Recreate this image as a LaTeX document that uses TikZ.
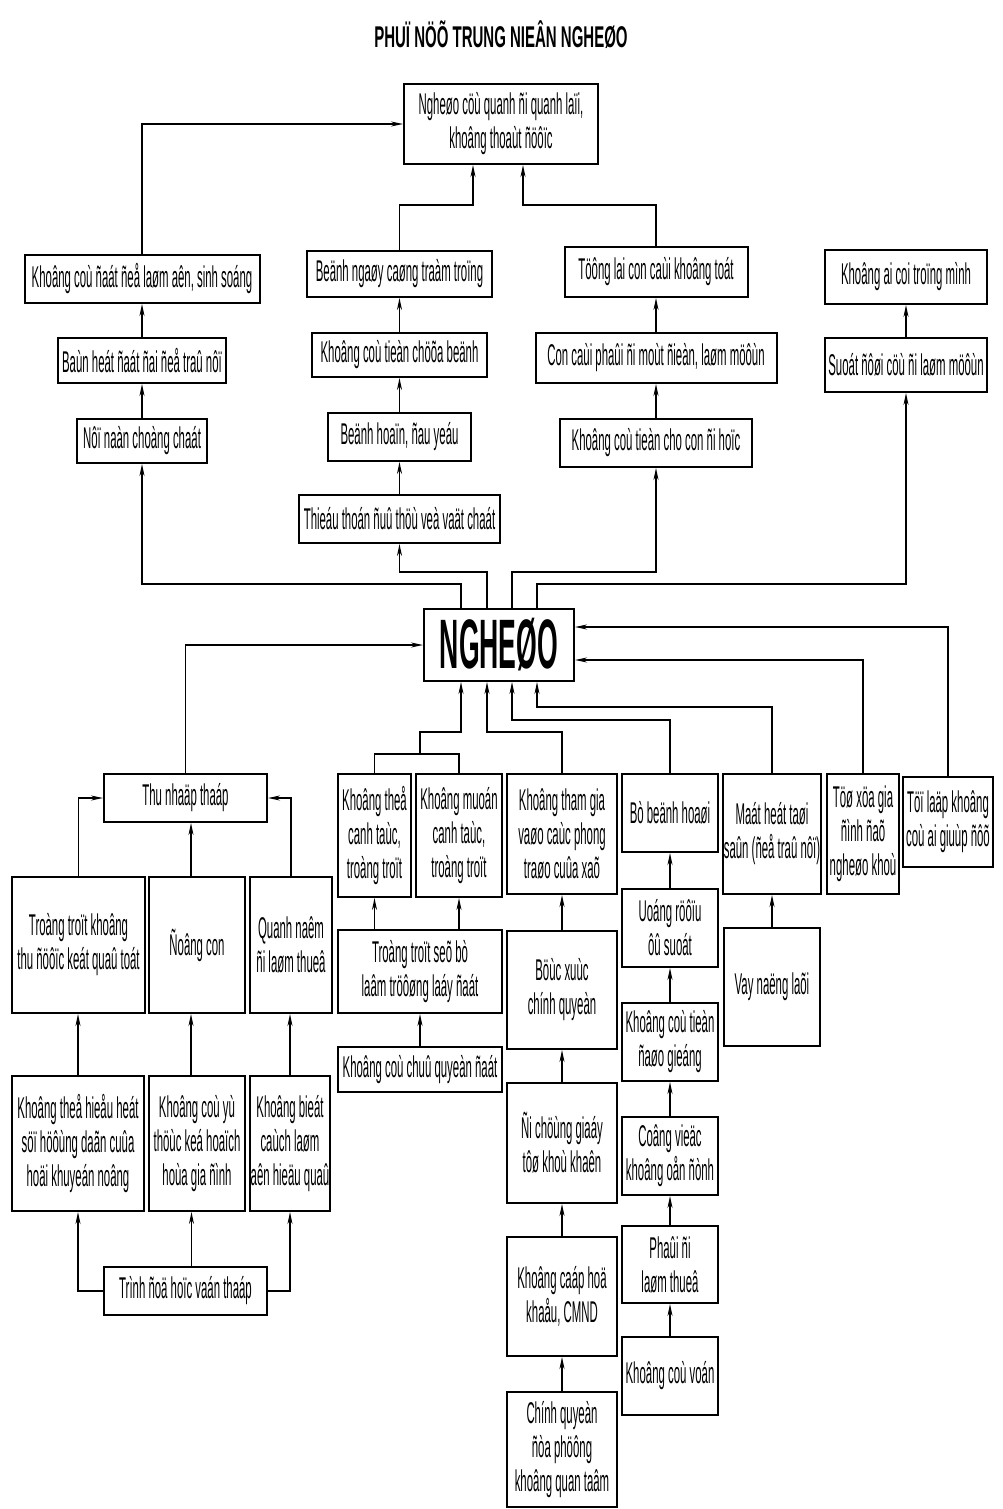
\documentclass[tikz,border=0pt]{standalone}
\usepackage{fontspec}
\setmainfont{Liberation Sans}[FakeStretch=0.38]
\newfontfamily\titlefont{Liberation Sans}[FakeStretch=0.5]
\usetikzlibrary{arrows.meta}
\tikzset{
  bx/.style={draw, line width=2pt, align=center, inner sep=1pt, font=\fontsize{30}{34}\selectfont},
  sz/.style 2 args={minimum width=#1pt, minimum height=#2pt},
  con/.style={line width=1.6pt},
  arr/.style={line width=1.6pt, -{Stealth[length=12pt,width=5pt]}},
}
\begin{document}
\begin{tikzpicture}[x=1pt,y=-1pt]
\useasboundingbox (0,0) rectangle (1003,1509);
% title
\node[font=\titlefont\bfseries\fontsize{30}{34}\selectfont] (title) at (501,35) {PHUÏ NÖÕ TRUNG NIEÂN NGHEØO};
% top
\node[bx, sz={194}{80}] (T) at (501,124) {Ngheøo cöù quanh ñi quanh laïi,\\khoâng thoaùt ñöôïc};
\node[bx, sz={235}{48}] (L1) at (142,279) {Khoâng coù ñaát ñeå laøm aên, sinh soáng};
\node[bx, sz={168}{45}] (L2) at (142,360.5) {Baùn heát ñaát ñai ñeå traû nôï};
\node[bx, sz={130}{44}] (L3) at (142,441) {Nôï naàn choàng chaát};
\node[bx, sz={185}{46}] (C1) at (399.5,274) {Beänh ngaøy caøng traàm troïng};
\node[bx, sz={175}{44}] (C2) at (399.5,355) {Khoâng coù tieàn chöõa beänh};
\node[bx, sz={143}{48}] (C3) at (399.5,437) {Beänh hoaïn, ñau yeáu};
\node[bx, sz={201}{48}] (C4) at (399.5,519) {Thieáu thoán ñuû thöù veà vaät chaát};
\node[bx, sz={183}{50}] (R1) at (656,272) {Töông lai con caùi khoâng toát};
\node[bx, sz={241}{50}] (R2) at (656,358) {Con caùi phaûi ñi moùt ñieàn, laøm möôùn};
\node[bx, sz={192}{48}] (R3) at (656,443) {Khoâng coù tieàn cho con ñi hoïc};
\node[bx, sz={162}{54}] (F1) at (906,277) {Khoâng ai coi troïng mình};
\node[bx, sz={162}{54}] (F2) at (906,365) {Suoát ñôøi cöù ñi laøm möôùn};
% center
\node[draw, line width=2pt, minimum width=150pt, minimum height=72pt, inner sep=0pt, font=\bfseries\fontsize{70}{74}\selectfont] (N) at (499,645) {NGHEØO};
% bottom left
\node[bx, sz={163}{48}] (TN) at (185.5,798) {Thu nhaäp thaáp};
\node[bx, sz={133}{136}] (B1) at (78.5,945) {Troàng troït khoâng\\thu ñöôïc keát quaû toát};
\node[bx, sz={96}{136}] (B2) at (197,945) {Ñoâng con};
\node[bx, sz={82}{136}] (B3) at (291,945) {Quanh naêm\\ñi laøm thueâ};
\node[bx, sz={132}{135}] (D1) at (78,1143.5) {Khoâng theå hieåu heát\\söï höôùng daãn cuûa\\hoäi khuyeán noâng};
\node[bx, sz={96}{135}] (D2) at (197,1143.5) {Khoâng coù yù\\thöùc keá hoaïch\\hoùa gia ñình};
\node[bx, sz={80}{135}] (D3) at (290,1143.5) {Khoâng bieát\\caùch laøm\\aên hieäu quaû};
\node[bx, sz={163}{48}] (E) at (185.5,1291) {Trình ñoä hoïc vaán thaáp};
% G column
\node[bx, sz={73}{123}] (G1) at (374.5,835.5) {Khoâng theå\\canh taùc,\\troàng troït};
\node[bx, sz={86}{123}] (G2) at (459,835.5) {Khoâng muoán\\canh taùc,\\troàng troït};
\node[bx, sz={164}{83}] (G3) at (420,971.5) {Troàng troït seõ bò\\laâm tröôøng laáy ñaát};
\node[bx, sz={164}{45}] (G4) at (420,1069.5) {Khoâng coù chuû quyeàn ñaát};
% H column
\node[bx, sz={110}{120}] (H1) at (562,834) {Khoâng tham gia\\vaøo caùc phong\\traøo cuûa xaõ};
\node[bx, sz={110}{118}] (H2) at (562,990) {Böùc xuùc\\chính quyeàn};
\node[bx, sz={110}{120}] (H3) at (562,1143) {Ñi chöùng giaáy\\tôø khoù khaên};
\node[bx, sz={110}{119}] (H4) at (562,1296.5) {Khoâng caáp hoä\\khaåu, CMND};
\node[bx, sz={110}{115}] (H5) at (562,1449.5) {Chính quyeàn\\ñòa phöông\\khoâng quan taâm};
% I column
\node[bx, sz={96}{78}] (I1) at (670,813) {Bò beänh hoaøi};
\node[bx, sz={96}{78}] (I2) at (670,928) {Uoáng röôïu\\ôû suoát};
\node[bx, sz={96}{78}] (I3) at (670,1042) {Khoâng coù tieàn\\ñaøo gieáng};
\node[bx, sz={96}{78}] (I4) at (670,1156) {Coâng vieäc\\khoâng oån ñònh};
\node[bx, sz={96}{77}] (I5) at (670,1264.5) {Phaûi ñi\\laøm thueâ};
\node[bx, sz={96}{78}] (I6) at (670,1376) {Khoâng coù voán};
% J, K, L
\node[bx, sz={96}{120}] (J1) at (772,834) {Maát heát taøi\\saûn (ñeå traû nôï)};
\node[bx, sz={96}{118}] (J2) at (772,987) {Vay naëng laõi};
\node[bx, sz={72}{120}] (K) at (863,834) {Töø xöa gia\\ñình ñaõ\\ngheøo khoù};
\node[bx, sz={90}{90}] (L) at (948,822) {Töï laäp khoâng\\coù ai giuùp ñôõ};

% ---------- upper connectors
\draw[arr] ([xshift=-38pt]N.north) |- (142,584) -- (L3.south);
\draw[arr] ([xshift=-12pt]N.north) |- (399.5,572) -- (C4.south);
\draw[arr] ([xshift=13pt]N.north) |- (656,572) -- (R3.south);
\draw[arr] ([xshift=38pt]N.north) |- (906,584) -- (F2.south);
\draw[arr] (L3.north) -- (L2.south);
\draw[arr] (L2.north) -- (L1.south);
\draw[arr] (L1.north) |- (T.west);
\draw[arr] (C4.north) -- (C3.south);
\draw[arr] (C3.north) -- (C2.south);
\draw[arr] (C2.north) -- (C1.south);
\draw[arr] (C1.north) -- (399.5,205) -| ([xshift=-28pt]T.south);
\draw[arr] (R3.north) -- (R2.south);
\draw[arr] (R2.north) -- (R1.south);
\draw[arr] (R1.north) -- (656,205) -| ([xshift=22pt]T.south);
\draw[arr] (F2.north) -- (F1.south);

% ---------- lower connectors
\draw[arr] (TN.north) |- (N.west);
\draw[arr] (B1.north) |- (TN.west);
\draw[arr] (B3.north) |- (TN.east);
\draw[arr] ([xshift=-6pt]B2.north) -- ([xshift=-6pt]B2.north |- TN.south);
\draw[arr] (D1.north) -- (D1.north |- B1.south);
\draw[arr] ([xshift=-6pt]D2.north) -- ([xshift=-6pt]D2.north |- B2.south);
\draw[arr] (D3.north) -- (D3.north |- B3.south);
\draw[arr] (E.west) -| (D1.south);
\draw[arr] ([xshift=6pt]E.north) -- ([xshift=6pt]E.north |- D2.south);
\draw[arr] (E.east) -| (D3.south);

\coordinate (gj) at (420,754);
\draw[con] (G1.north) |- (gj) -| (G2.north);
\draw[arr] (gj) -- (420,732) -| ([xshift=-38pt]N.south);
\draw[arr] (H1.north) |- (562,732) -| ([xshift=-12pt]N.south);
\draw[arr] (I1.north) |- (670,720) -| ([xshift=13pt]N.south);
\draw[arr] (J1.north) |- (772,707) -| ([xshift=38pt]N.south);
\draw[arr] (K.north) |- ([yshift=-15pt]N.east);
\draw[arr] (L.north) |- ([yshift=18pt]N.east);

\draw[arr] (G3.north -| G1.south) -- (G1.south);
\draw[arr] (G3.north -| G2.south) -- (G2.south);
\draw[arr] (G4.north) -- (G3.south);
\draw[arr] (H2.north) -- (H1.south);
\draw[arr] (H3.north) -- (H2.south);
\draw[arr] (H4.north) -- (H3.south);
\draw[arr] (H5.north) -- (H4.south);
\draw[arr] (I2.north) -- (I1.south);
\draw[arr] (I3.north) -- (I2.south);
\draw[arr] (I4.north) -- (I3.south);
\draw[arr] (I5.north) -- (I4.south);
\draw[arr] (I6.north) -- (I5.south);
\draw[arr] (J2.north) -- (J1.south);
\end{tikzpicture}
\end{document}
